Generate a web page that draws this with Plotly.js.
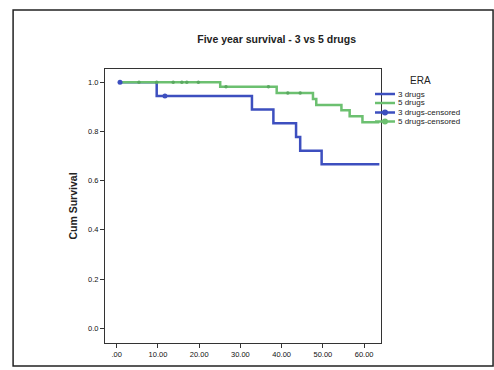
<!DOCTYPE html>
<html>
<head>
<meta charset="utf-8">
<script src="https://cdn.plot.ly/plotly-3.0.1.min.js"></script>
<style>html,body{margin:0;padding:0;background:#fff;}#chart{width:494px;height:370px;}</style>
</head>
<body>
<div id="chart"></div>
<script>
// Kaplan-Meier step data
var timesThree = [0.8, 9.7, 32.8, 38.0, 43.5, 44.5, 49.7, 63.7];
var survThree  = [1.0, 0.944, 0.889, 0.833, 0.778, 0.722, 0.667, 0.667];
var timesFive  = [0.8, 25.1, 38.8, 47.6, 48.4, 54.5, 56.5, 59.6, 63.7];
var survFive   = [1.0, 0.982, 0.956, 0.932, 0.908, 0.886, 0.862, 0.838, 0.838];
// censored observations
var censThreeT = [0.8, 11.7];
var censThreeS = [1.0, 0.944];
var censFiveT  = [5.4, 9.7, 13.7, 15.8, 17.0, 19.8, 26.5, 36.8, 41.5, 44.5];
var censFiveS  = [1.0, 1.0, 1.0, 1.0, 1.0, 1.0, 0.982, 0.982, 0.956, 0.956];
var xTickVals = [0, 10, 20, 30, 40, 50, 60];
var xTickText = ['.00', '10.00', '20.00', '30.00', '40.00', '50.00', '60.00'];
var yTickVals = [0, 0.2, 0.4, 0.6, 0.8, 1.0];
var yTickText = ['0.0', '0.2', '0.4', '0.6', '0.8', '1.0'];
var seriesNames = ['3 drugs', '5 drugs', '3 drugs-censored', '5 drugs-censored'];
var legendTitle = 'ERA';

var blue = '#3d4fbf';
var green = '#6cc070';
var seriesColors = [blue, green, blue, green];
var FONT = 'Liberation Sans, Arial, sans-serif';

var traces = [
  {x: timesThree, y: survThree, mode: 'lines', line: {shape: 'hv', color: blue, width: 2.5}, name: seriesNames[0]},
  {x: timesFive, y: survFive, mode: 'lines', line: {shape: 'hv', color: green, width: 2.5}, name: seriesNames[1]},
  {x: censThreeT, y: censThreeS, mode: 'markers', marker: {symbol: 'circle', size: 5, color: blue}, name: seriesNames[2]},
  {x: censFiveT, y: censFiveS, mode: 'markers', marker: {symbol: 'circle', size: 3.5, color: '#5aa860'}, name: seriesNames[3]}
];

var axisCommon = {
  showgrid: false, zeroline: false, showline: true, mirror: true,
  linecolor: '#333', linewidth: 1, ticks: 'outside', ticklen: 4, tickcolor: '#333',
  tickfont: {family: FONT, size: 7.5, color: '#111'}
};

// compact legend (SPSS style) built from paper-coordinate decorations
var L = 105, W = 276, B = 343, H = 274;
function px(x) { return (x - L) / W; }
function py(y) { return (B - y) / H; }
var shapes = [
  {type: 'rect', xref: 'paper', yref: 'paper', x0: -0.333, x1: 1.406, y0: -0.084, y1: 1.215,
   line: {color: '#222', width: 1.5}, fillcolor: 'rgba(0,0,0,0)', layer: 'below'}
];
var annotations = [
  {xref: 'paper', yref: 'paper', x: px(420), y: py(80), text: legendTitle, showarrow: false,
   xanchor: 'center', yanchor: 'middle', font: {family: FONT, size: 10, color: '#222'}}
];
var rowY = [94, 103, 112.5, 121.5];
seriesNames.forEach(function (nm, i) {
  var yy = py(rowY[i]);
  shapes.push({type: 'line', xref: 'paper', yref: 'paper', x0: px(375), x1: px(395), y0: yy, y1: yy,
               line: {color: seriesColors[i], width: 2.5}});
  if (i >= 2) {
    shapes.push({type: 'circle', xref: 'paper', yref: 'paper', x0: px(382), x1: px(388),
                 y0: py(rowY[i] + 3), y1: py(rowY[i] - 3), line: {width: 0}, fillcolor: seriesColors[i]});
  }
  annotations.push({xref: 'paper', yref: 'paper', x: px(396), y: yy, text: nm, showarrow: false,
                    xanchor: 'left', yanchor: 'middle', font: {family: FONT, size: 8, color: '#222'}});
});

var layout = {
  width: 494, height: 370,
  margin: {l: L, r: 494 - L - W, t: 69, b: 370 - B},
  paper_bgcolor: '#fff', plot_bgcolor: '#fff',
  title: {text: '<b>Five year survival - 3 vs 5 drugs</b>', x: 0.56, xanchor: 'center', y: 0.895, yanchor: 'middle',
          font: {family: FONT, size: 10.5, color: '#222'}},
  xaxis: Object.assign({}, axisCommon, {range: [-2.84, 64.1], tickvals: xTickVals, ticktext: xTickText}),
  yaxis: Object.assign({}, axisCommon, {range: [-0.06, 1.054], tickvals: yTickVals, ticktext: yTickText,
          title: {text: '<b>Cum Survival</b>', standoff: 8, font: {family: FONT, size: 10.5, color: '#222'}}}),
  showlegend: false,
  shapes: shapes,
  annotations: annotations
};

Plotly.newPlot('chart', traces, layout, {displayModeBar: false, staticPlot: true});
</script>
</body>
</html>
